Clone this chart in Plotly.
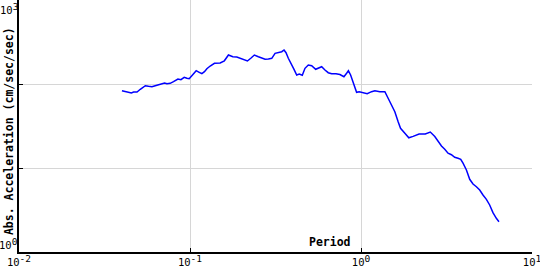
import plotly.graph_objects as go

# Period (s) and absolute acceleration (cm/sec/sec)
period = [0.0400, 0.0418, 0.0438, 0.0454, 0.0468, 0.0490, 0.0512, 0.0548, 0.0572, 0.0599,
          0.0626, 0.0655, 0.0686, 0.0710, 0.0733, 0.0766, 0.0801, 0.0850, 0.0885, 0.0925,
          0.0959, 0.0989, 0.1034, 0.1087, 0.1132, 0.1174, 0.1215, 0.1255, 0.1312, 0.1390,
          0.1501, 0.1588, 0.1678, 0.1780, 0.1878, 0.1964, 0.2053, 0.2167, 0.2267, 0.2379,
          0.2512, 0.2629, 0.2748, 0.2873, 0.3007, 0.3144, 0.3286, 0.3440, 0.3548, 0.3644,
          0.3758, 0.3934, 0.4058, 0.4207, 0.4357, 0.4536, 0.4704, 0.4918, 0.5147, 0.5433,
          0.5679, 0.5888, 0.6155, 0.6433, 0.6735, 0.7137, 0.7530, 0.7947, 0.8240, 0.8441,
          0.8694, 0.9005, 0.9425, 0.9761, 1.030, 1.087, 1.153, 1.205, 1.289, 1.379,
          1.441, 1.509, 1.577, 1.649, 1.703, 1.805, 1.904, 2.017, 2.186, 2.376,
          2.542, 2.701, 2.823, 2.955, 3.089, 3.228, 3.379, 3.533, 3.693, 3.830,
          3.950, 4.135, 4.322, 4.519, 4.730, 4.945, 5.169, 5.410, 5.655, 5.911,
          6.187, 6.410]
accel = [83.2, 81.0, 80.3, 78.2, 80.3, 80.3, 86.5, 95.4, 93.9, 92.9,
         95.4, 98.1, 102.8, 102.8, 100.8, 101.9, 106.5, 114.7, 112.5, 120.2,
         116.9, 115.6, 128.0, 144.0, 137.8, 132.6, 140.1, 152.1, 163.8, 176.4,
         177.8, 188.9, 221.4, 211.3, 209.6, 202.3, 193.1, 187.8, 202.3, 221.4,
         211.3, 205.6, 196.8, 198.4, 202.3, 232.0, 235.8, 242.4, 254.0, 235.8,
         202.3, 173.0, 149.6, 128.0, 131.5, 126.9, 153.8, 168.4, 165.2, 149.6,
         155.1, 160.7, 146.8, 136.3, 132.6, 132.6, 129.7, 122.2, 134.1, 143.6,
         128.0, 101.9, 79.6, 81.0, 78.8, 76.6, 81.0, 83.2, 81.0, 81.0,
         67.6, 56.2, 46.8, 35.6, 29.7, 25.9, 22.9, 23.8, 25.4, 25.4,
         26.8, 23.7, 20.6, 18.3, 16.7, 15.0, 14.4, 13.4, 13.05, 12.7,
         11.4, 9.47, 7.34, 6.45, 5.99, 5.47, 4.77, 4.24, 3.63, 2.94,
         2.52, 2.29]

x_tickvals = [0.01, 0.1, 1, 10]
x_exponents = ["-2", "-1", "0", "1"]
y_tickvals = [1, 10, 100, 1000]
y_label_exponents = ["3", "0"]
x_title = "Period"
y_title = "Abs. Acceleration (cm/sec/sec)"

mono = "DejaVu Sans Mono"


def power_label(exp):
    return "10<sup><span style='font-size:9.5px'>" + exp + "</span></sup>"


x_ticktext = [power_label(e) for e in x_exponents]

fig = go.Figure()
fig.add_trace(go.Scatter(x=period, y=accel, mode="lines",
                         line=dict(color="#0000ff", width=1.5),
                         showlegend=False, hoverinfo="skip"))

fig.update_layout(
    template="none",
    width=540, height=270,
    margin=dict(l=18.5, r=8, t=0, b=18, pad=0),
    paper_bgcolor="white", plot_bgcolor="white",
    font=dict(family=mono, size=10.5, color="black"),
    xaxis=dict(type="log", range=[-2, 1], tickvals=x_tickvals, ticktext=x_ticktext,
               showgrid=True, gridcolor="#d6d6d6", gridwidth=1,
               showline=True, linecolor="black", linewidth=1.5, mirror=False,
               ticks="inside", ticklen=4, tickcolor="black", tickwidth=1,
               zeroline=False, automargin=False, ticklabeloverflow="allow",
               tickfont=dict(family=mono, size=10.5, color="black")),
    yaxis=dict(type="log", range=[0, 3], tickvals=y_tickvals,
               showticklabels=False,
               showgrid=True, gridcolor="#d6d6d6", gridwidth=1,
               showline=True, linecolor="black", linewidth=1.5, mirror=False,
               ticks="inside", ticklen=4, tickcolor="black", tickwidth=1,
               zeroline=False, automargin=False),
)

title_font = dict(family=mono, size=11.5, color="black", weight="bold")
fig.add_annotation(text=x_title, xref="paper", yref="paper", x=0.6066, y=0.0377,
                   xanchor="center", yanchor="middle", showarrow=False, font=title_font)
fig.add_annotation(text=y_title, xref="paper", yref="paper", x=-0.0204, y=0.478,
                   xanchor="center", yanchor="middle", textangle=-90, showarrow=False,
                   font=title_font)
tick_font = dict(family=mono, size=10.5, color="black")
fig.add_annotation(text=power_label(y_label_exponents[0]), xref="paper", yref="y", x=0, y=3,
                   xanchor="right", yanchor="top", showarrow=False, font=tick_font,
                   borderpad=0)
fig.add_annotation(text=power_label(y_label_exponents[1]), xref="paper", yref="y", x=0, y=0,
                   xanchor="right", yanchor="bottom", showarrow=False, font=tick_font,
                   borderpad=0)

fig.write_html("out.html")
